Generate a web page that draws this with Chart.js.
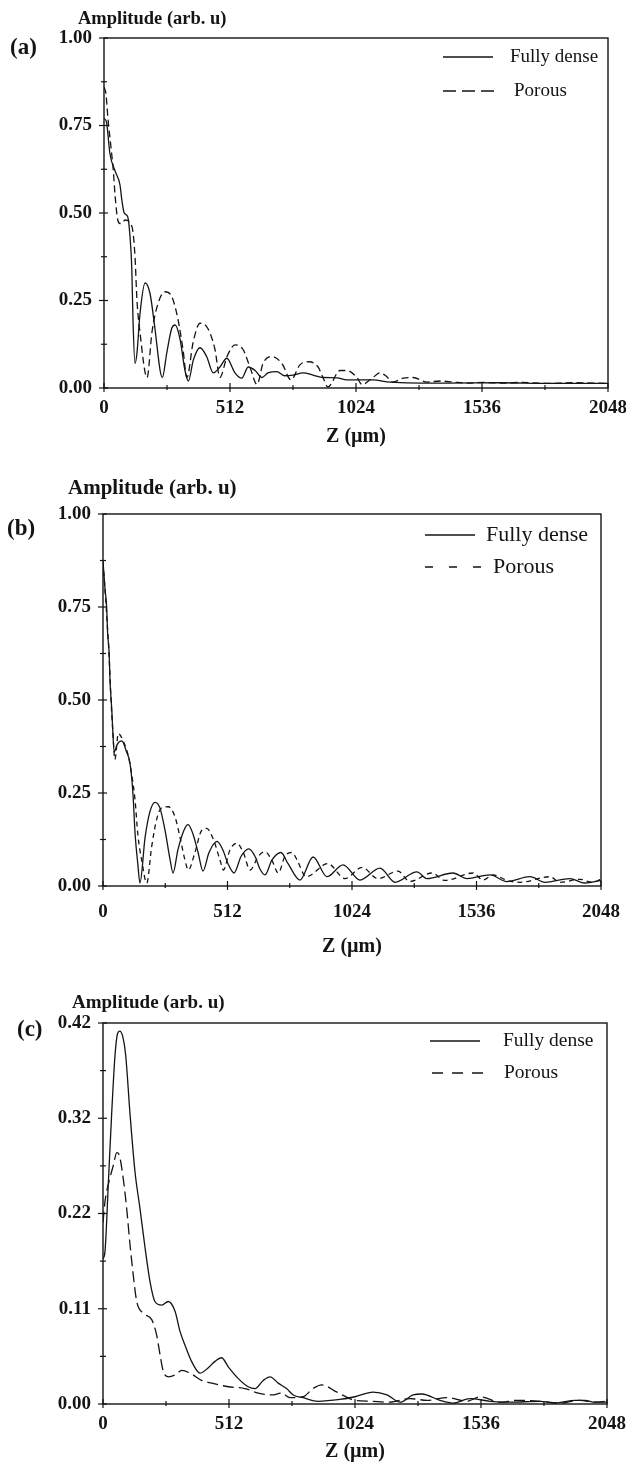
<!DOCTYPE html>
<html><head><meta charset="utf-8">
<script src="https://cdn.jsdelivr.net/npm/chart.js@4.4.1/dist/chart.umd.min.js"></script>
<style>
html,body{margin:0;padding:0;background:#fff;}
body{width:626px;height:1463px;position:relative;overflow:hidden;}
canvas{position:absolute;left:0;}
</style></head><body>
<canvas id="ca" width="626" height="460" style="top:0px"></canvas>
<canvas id="cb" width="626" height="490" style="top:470px"></canvas>
<canvas id="cc" width="626" height="498" style="top:965px"></canvas>
<script>
// ---------- DATA ----------
const seriesNames = ['Fully dense', 'Porous'];
const yTitle = 'Amplitude (arb. u)';
const xTitle = 'Z (\u00b5m)';
const xTickLabels = ['0', '512', '1024', '1536', '2048'];
const yLabelsAB = ['0.00', '0.25', '0.50', '0.75', '1.00'];
const yLabelsC = ['0.00', '0.11', '0.22', '0.32', '0.42'];

// Panel (a)
const aDenseZ = [0,10,24,45,65,72,82,96,106,113,118,126,134,146,167,187,207,228,237,255,275,289,309,329,343,363,390,417,444,471,499,532,560,586,614,641,666,702,735,768,809,849,890,947,987,1093,1162,1394,1609,1812,2048];
const aDenseAmp = [.77,.76,.67,.62,.58,.54,.50,.49,.43,.34,.19,.07,.10,.21,.30,.27,.17,.05,.03,.10,.17,.18,.14,.05,.02,.08,.115,.09,.043,.06,.085,.043,.028,.06,.05,.03,.043,.047,.035,.037,.043,.037,.03,.029,.023,.023,.017,.014,.015,.013,.013];
const aPorousZ = [0,8,16,28,38,45,56,65,73,85,114,126,134,146,175,195,219,248,276,301,321,337,362,390,422,451,471,500,532,565,593,622,646,683,723,760,796,833,870,890,910,959,987,1028,1048,1093,1121,1145,1174,1215,1256,1313,1365,1418,1475,1540,1620,1700,1800,1900,2048];
const aPorousAmp = [.86,.84,.77,.69,.62,.55,.48,.47,.47,.48,.46,.375,.25,.16,.03,.16,.24,.275,.26,.195,.11,.03,.13,.185,.17,.11,.03,.09,.123,.11,.06,.01,.07,.09,.07,.023,.066,.075,.06,.03,.003,.05,.05,.03,.01,.03,.043,.035,.017,.028,.03,.017,.02,.017,.014,.016,.014,.016,.013,.015,.013];

// Panel (b)
const bDenseZ = [0,8,15,19,25,29,36,40,46,58,77,97,111,123,132,143,152,173,193,214,234,255,276,288,308,333,350,370,391,411,436,469,493,514,539,568,600,625,646,666,695,732,761,810,864,921,987,1057,1139,1201,1291,1332,1439,1497,1592,1661,1756,1818,1920,1982,2048];
const bDenseAmp = [.874,.80,.75,.68,.63,.55,.475,.42,.36,.38,.39,.36,.33,.25,.14,.06,.008,.13,.20,.225,.21,.15,.07,.035,.097,.15,.165,.14,.09,.04,.09,.12,.097,.06,.035,.08,.10,.08,.045,.03,.07,.09,.06,.016,.078,.025,.057,.016,.048,.01,.038,.02,.035,.02,.03,.012,.025,.01,.02,.008,.015];
const bPorousZ = [0,8,16,25,33,40,49,63,83,104,118,132,143,159,180,200,221,241,269,296,317,337,351,378,406,426,454,481,495,522,550,577,605,639,666,694,721,748,777,798,835,925,995,1065,1131,1213,1262,1353,1406,1522,1563,1604,1661,1715,1838,1879,1962,2011,2048];
const bPorousAmp = [.87,.80,.72,.62,.50,.42,.34,.41,.39,.35,.30,.23,.14,.07,.008,.105,.18,.21,.213,.186,.13,.07,.043,.09,.15,.155,.125,.07,.043,.097,.115,.09,.043,.08,.092,.07,.035,.08,.09,.07,.025,.06,.02,.05,.02,.04,.012,.035,.015,.035,.016,.03,.015,.01,.025,.01,.018,.01,.018];

// Panel (c)
const cDenseZ = [0,8,22,35,49,60,69,82,92,110,130,150,171,191,211,239,265,293,313,333,360,394,428,455,482,509,550,590,618,651,679,712,746,773,813,874,963,1024,1097,1154,1207,1260,1296,1369,1422,1491,1573,1654,1776,1837,1918,1959,1999,2048];
const cDenseAmp = [.16,.168,.245,.319,.385,.409,.411,.403,.385,.319,.256,.216,.172,.135,.113,.109,.113,.102,.08,.065,.047,.034,.04,.047,.051,.041,.028,.019,.017,.026,.03,.023,.017,.01,.007,.003,.005,.008,.013,.01,.002,.01,.011,.004,.001,.006,.003,.002,.003,.001,.004,.004,.002,.002];
const cPorousZ = [0,8,28,42,56,65,82,96,110,123,137,164,198,218,232,245,265,293,320,354,401,442,509,577,631,686,726,760,813,853,890,951,1024,1085,1166,1247,1317,1398,1479,1532,1613,1682,1776,1857,1938,1999,2048];
const cPorousAmp = [.20,.223,.249,.263,.277,.275,.249,.216,.175,.142,.113,.10,.093,.076,.054,.036,.030,.032,.037,.034,.026,.023,.019,.017,.012,.01,.012,.007,.008,.017,.021,.013,.004,.003,.002,.006,.004,.007,.003,.008,.002,.004,.003,.001,.004,.002,.003];

// ---------- RENDERING ----------
const SERIF = "'Liberation Serif', 'Times New Roman', serif";
const INK = '#141414';
function pts(zs, vs) { return zs.map((z, i) => ({x: z, y: vs[i]})); }

const decor = {
  id: 'decor',
  afterDraw(chart, args, o) {
    const ctx = chart.ctx, ca = chart.chartArea, off = o.canvasTop;
    ctx.save();
    ctx.strokeStyle = INK; ctx.fillStyle = INK;
    ctx.lineWidth = 1.4;
    ctx.strokeRect(ca.left, ca.top, ca.right - ca.left, ca.bottom - ca.top);
    const xs = chart.scales.x, ys = chart.scales.y;
    ctx.lineWidth = 1.2;
    xs.ticks.forEach((t, i) => {
      const px = xs.getPixelForValue(t.value), mj = i % 2 === 0;
      ctx.beginPath(); ctx.moveTo(px, ca.bottom - (mj ? 5 : 3)); ctx.lineTo(px, ca.bottom + (mj ? 4 : 2)); ctx.stroke();
    });
    ys.ticks.forEach((t, i) => {
      const py = ys.getPixelForValue(t.value), mj = i % 2 === 0;
      ctx.beginPath(); ctx.moveTo(ca.left - (mj ? 5 : 3), py); ctx.lineTo(ca.left + (mj ? 4 : 3), py); ctx.stroke();
    });
    ctx.textBaseline = 'middle'; ctx.textAlign = 'left';
    ctx.font = o.titleFont; ctx.fillText(yTitle, o.titleX, o.titleY - off);
    ctx.font = o.letterFont; ctx.fillText(o.letter, o.letterX, o.letterY - off);
    const L = o.legend;
    chart.data.datasets.forEach((ds, i) => {
      const y = L.rows[i] - off;
      ctx.lineWidth = 1.3;
      ctx.setLineDash(i === 0 ? [] : L.dash);
      ctx.beginPath(); ctx.moveTo(L.x1[i], y); ctx.lineTo(L.x2[i], y); ctx.stroke();
      ctx.setLineDash([]);
      ctx.font = L.font; ctx.fillText(ds.label, L.tx[i], y);
    });
    ctx.restore();
  }
};

function makePanel(id, p) {
  new Chart(document.getElementById(id), {
    type: 'line',
    data: {
      datasets: [
        {label: seriesNames[0], data: pts(p.dz, p.da), borderColor: INK, borderWidth: 1.3, pointRadius: 0, cubicInterpolationMode: 'monotone', fill: false},
        {label: seriesNames[1], data: pts(p.pz, p.pa), borderColor: INK, borderWidth: 1.3, pointRadius: 0, borderDash: p.dash, cubicInterpolationMode: 'monotone', fill: false}
      ]
    },
    options: {
      responsive: false, animation: false, events: [],
      layout: {padding: {top: p.padTop, left: 0, right: p.padRight, bottom: 0}},
      plugins: {legend: {display: false}, tooltip: {enabled: false}, decor: p.decor},
      scales: {
        x: {
          type: 'linear', min: 0, max: 2048,
          grid: {display: false, drawTicks: false}, border: {display: false},
          ticks: {stepSize: 256, autoSkip: false, maxRotation: 0, padding: p.xPad, color: INK,
            font: {family: SERIF, size: 19, weight: 'bold'},
            callback: (v, i) => (i % 2 === 0 ? xTickLabels[i / 2] : '')},
          title: {display: true, text: xTitle, color: INK, font: {family: SERIF, size: 20, weight: 'bold', lineHeight: 1}, padding: {top: 0, bottom: p.titlePad}},
          afterFit: s => { s.height = p.xH; s.paddingLeft = 0; s.paddingRight = 0; }
        },
        y: {
          min: 0, max: p.ymax,
          grid: {display: false, drawTicks: false}, border: {display: false},
          ticks: {stepSize: p.ystep, autoSkip: false, padding: 12, color: INK,
            font: {family: SERIF, size: 19, weight: 'bold'},
            callback: (v, i) => (i % 2 === 0 ? p.ylabels[i / 2] : '')},
          afterFit: s => { s.width = p.yW; s.paddingTop = 0; s.paddingBottom = 0; }
        }
      }
    },
    plugins: [decor]
  });
}

makePanel('ca', {
  dz: aDenseZ, da: aDenseAmp, pz: aPorousZ, pa: aPorousAmp, dash: [7, 4],
  padTop: 38, padRight: 18, xH: 72, yW: 104, xPad: 9, titlePad: 13,
  ymax: 1.0, ystep: 0.125, ylabels: yLabelsAB,
  decor: {canvasTop: 0, titleFont: 'bold 18.5px ' + SERIF, titleX: 78, titleY: 19,
    letter: '(a)', letterFont: 'bold 23px ' + SERIF, letterX: 10, letterY: 48,
    legend: {x1: [443, 443], x2: [493, 495], rows: [57, 91], tx: [510, 514], dash: [13, 6], font: '19px ' + SERIF}}
});
makePanel('cb', {
  dz: bDenseZ, da: bDenseAmp, pz: bPorousZ, pa: bPorousAmp, dash: [5, 4],
  padTop: 44, padRight: 25, xH: 74, yW: 103, xPad: 15, titlePad: 3,
  ymax: 1.0, ystep: 0.125, ylabels: yLabelsAB,
  decor: {canvasTop: 470, titleFont: 'bold 21px ' + SERIF, titleX: 68, titleY: 489,
    letter: '(b)', letterFont: 'bold 23px ' + SERIF, letterX: 7, letterY: 529,
    legend: {x1: [425, 425], x2: [475, 481], rows: [535, 567], tx: [486, 493], dash: [8, 16], font: '22px ' + SERIF}}
});
makePanel('cc', {
  dz: cDenseZ, da: cDenseAmp, pz: cPorousZ, pa: cPorousAmp, dash: [11, 5],
  padTop: 58, padRight: 19, xH: 59, yW: 103, xPad: 9, titlePad: 1,
  ymax: 0.42, ystep: 0.0525, ylabels: yLabelsC,
  decor: {canvasTop: 965, titleFont: 'bold 19px ' + SERIF, titleX: 72, titleY: 1003,
    letter: '(c)', letterFont: 'bold 23px ' + SERIF, letterX: 17, letterY: 1030,
    legend: {x1: [430, 432], x2: [480, 483], rows: [1041, 1073], tx: [503, 504], dash: [11, 9], font: '19.5px ' + SERIF}}
});
</script>
</body></html>
